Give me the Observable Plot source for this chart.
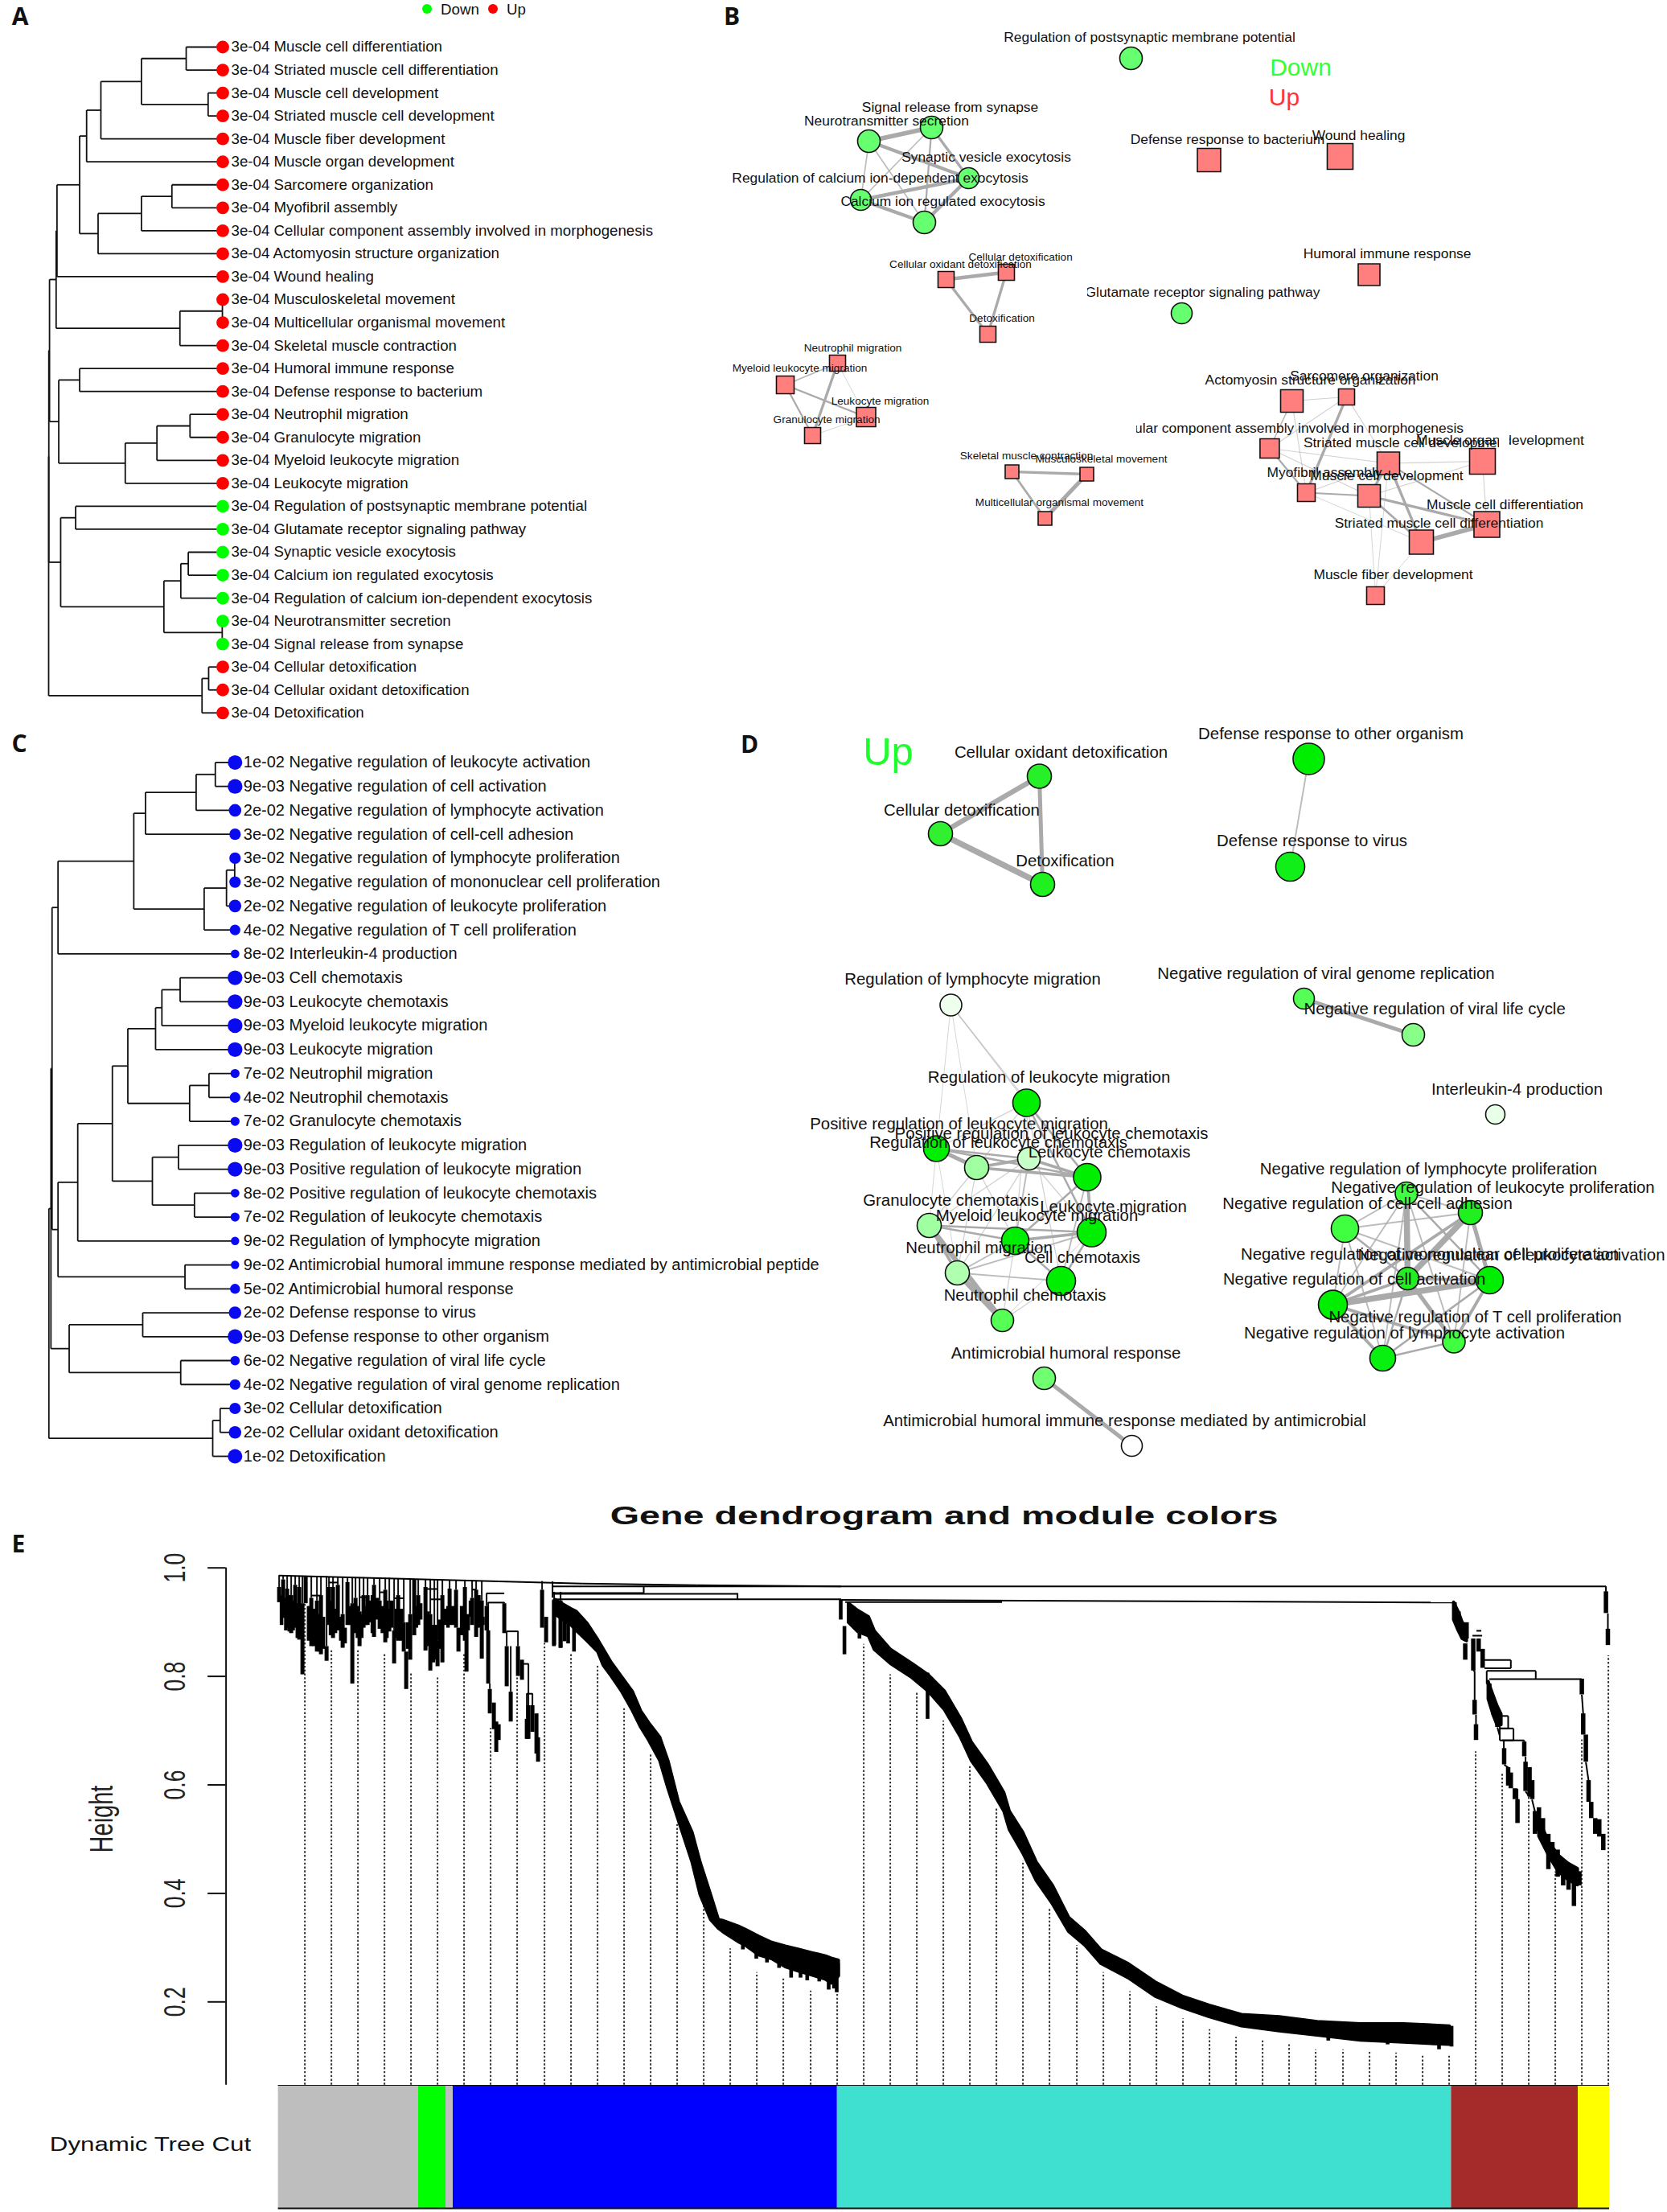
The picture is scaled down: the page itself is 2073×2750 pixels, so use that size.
<!DOCTYPE html>
<html><head><meta charset="utf-8">
<script src="https://cdn.jsdelivr.net/npm/d3@7"></script>
<script src="https://cdn.jsdelivr.net/npm/@observablehq/plot@0.6"></script>
<style>
html,body{margin:0;padding:0;background:#fff}
#page{position:relative;width:2073px;height:2750px;overflow:hidden;font-family:"Liberation Sans",sans-serif;color:#111}
#page>svg,#page>.pl{position:absolute}
.letter{position:absolute;font:700 30px "Open Sans",sans-serif;line-height:1.2;transform:translate(-50%,-50%);color:#111}
.lg{position:absolute;line-height:1.15;transform:translateY(-50%);font-size:18.7px}
.dot{position:absolute;width:12px;height:12px;border-radius:50%;transform:translate(-50%,-50%)}
.big{position:absolute;line-height:1;transform:translate(-50%,-50%)}
</style></head><body><div id="page"></div>
<script>
/* ---------- Panel A ---------- */
const aTerms=["Muscle cell differentiation","Striated muscle cell differentiation","Muscle cell development","Striated muscle cell development","Muscle fiber development","Muscle organ development","Sarcomere organization","Myofibril assembly","Cellular component assembly involved in morphogenesis","Actomyosin structure organization","Wound healing","Musculoskeletal movement","Multicellular organismal movement","Skeletal muscle contraction","Humoral immune response","Defense response to bacterium","Neutrophil migration","Granulocyte migration","Myeloid leukocyte migration","Leukocyte migration","Regulation of postsynaptic membrane potential","Glutamate receptor signaling pathway","Synaptic vesicle exocytosis","Calcium ion regulated exocytosis","Regulation of calcium ion-dependent exocytosis","Neurotransmitter secretion","Signal release from synapse","Cellular detoxification","Cellular oxidant detoxification","Detoxification"];
const aDirection=["Up","Up","Up","Up","Up","Up","Up","Up","Up","Up","Up","Up","Up","Up","Up","Up","Up","Up","Up","Up","Down","Down","Down","Down","Down","Down","Down","Up","Up","Up"];
const aMuscle=[82.2,[78.2,[70,[46.7,[21,0,1],[8.4,2,3]],4],5],[71.6,[46.7,[29.2,6,7],8],9]];
const aImmune=[94.2,[82.2,14,15],[56,[37.8,[18.8,16,17],18],19]];
const aSynapse=[93.1,[84.5,20,21],[33.8,[24.1,[19.8,22,23],24],[.3,25,26]]];
const aTree=[100,[99.9,[99.5,[95.7,[95.2,aMuscle,10],[24.6,[.2,11,12],13]],aImmune],aSynapse],[11.9,[8.1,27,28],29]];

/* ---------- Panel C ---------- */
const cTerms=["Negative regulation of leukocyte activation","Negative regulation of cell activation","Negative regulation of lymphocyte activation","Negative regulation of cell-cell adhesion","Negative regulation of lymphocyte proliferation","Negative regulation of mononuclear cell proliferation","Negative regulation of leukocyte proliferation","Negative regulation of T cell proliferation","Interleukin-4 production","Cell chemotaxis","Leukocyte chemotaxis","Myeloid leukocyte migration","Leukocyte migration","Neutrophil migration","Neutrophil chemotaxis","Granulocyte chemotaxis","Regulation of leukocyte migration","Positive regulation of leukocyte migration","Positive regulation of leukocyte chemotaxis","Regulation of leukocyte chemotaxis","Regulation of lymphocyte migration","Antimicrobial humoral immune response mediated by antimicrobial peptide","Antimicrobial humoral response","Defense response to virus","Defense response to other organism","Negative regulation of viral life cycle","Negative regulation of viral genome replication","Cellular detoxification","Cellular oxidant detoxification","Detoxification"];
const cP=["1e-02","9e-03","2e-02","3e-02","3e-02","3e-02","2e-02","4e-02","8e-02","9e-03","9e-03","9e-03","9e-03","7e-02","4e-02","7e-02","9e-03","9e-03","8e-02","7e-02","9e-02","9e-02","5e-02","2e-02","9e-03","6e-02","4e-02","3e-02","2e-02","1e-02"];
const cNeg=[54.4,[48.1,[20.9,[10.6,0,1],2],3],[16.6,[4.6,[.2,4,5],6],7]];
const cMigr=[65.9,[57.6,[42.7,[39.3,[29.5,9,10],11],12],[24.4,[14,13,14],15]],[44.4,[30.4,16,17],[21.8,18,19]]];
const cDef=[89.1,[49.6,23,24],[29.2,25,26]];
const cTree=[100,[98.9,[98.3,[95.1,cNeg,8],[95.1,[84.5,cMigr,20],[26.9,21,22]]],cDef],[12,[8,27,28],29]];

/* ---------- Panel B network ---------- */
const bLabels=["Regulation of postsynaptic membrane potential","Signal release from synapse","Neurotransmitter secretion","Synaptic vesicle exocytosis","Regulation of calcium ion-dependent exocytosis","Calcium ion regulated exocytosis","Glutamate receptor signaling pathway","Defense response to bacterium","Wound healing","Humoral immune response","Cellular oxidant detoxification","Cellular detoxification","Detoxification","Neutrophil migration","Myeloid leukocyte migration","Leukocyte migration","Granulocyte migration","Skeletal muscle contraction","Musculoskeletal movement","Multicellular organismal movement","Actomyosin structure organization","Sarcomere organization","Cellular component assembly involved in morphogenesis","Striated muscle cell development","Muscle organ development","Myofibril assembly","Muscle cell development","Muscle cell differentiation","Striated muscle cell differentiation","Muscle fiber development"];
const bX=[1406,1158,1080,1204,1070,1149,1469,1503,1666,1702,1176,1251,1228,1041,976,1076.5,1010,1258,1351,1299,1606,1674,1578.4,1726,1843,1624,1702,1848.5,1767,1710];
const bY=[72,158,175,221,248,276,389,198.5,194,341,347,338,415,451,478,518,541,586,589,644,498,493,557,575.5,573,612,616,651.5,673.5,740];
const bSize=[14,14,14,13,13,14,13,14.5,16,13.5,10,10,10,10,11,12,10,8.5,8.5,8.5,14,10,12,14,16,11,14,16,15,11];
const bLabelX=[1429,1181,1102,1226,1094,1172,1495,1526,1689,1724.6,1194,1268.6,1245.6,1060,994,1094,1027.6,1276,1369,1317,1629,1696,1600,1748,1865,1646.5,1724,1871,1789,1732];
const bLabelY=[46,133,150,195,221,249.5,363,172.5,168,315,328.5,319,395,432.6,457.6,498,521,566,570,624,472,467,532,550,547,587,591,627,650,714];
const bFont=[17.4,17.4,17.4,17.4,17.4,17.4,17.4,17.4,17.4,17.4,13.6,13.6,13.6,13.6,13.6,13.6,13.6,13.6,13.6,13.6,17.4,17.4,17.4,17.4,17.4,17.4,17.4,17.4,17.4,17.4];
const bDown=[0,1,2,3,4,5,6];
const bEdges=[[1,2,5],[1,3,3],[2,3,4],[2,4,1.5],[2,5,1.5],[1,4,1.5],[1,5,2],[3,4,4],[3,5,4],[4,5,4],[10,11,4],[10,12,3],[11,12,3],[13,16,3],[13,14,1.5],[14,15,2],[14,16,2],[13,15,.8],[15,16,.8],[17,18,3],[17,19,2.5],[18,19,4.5],[20,21,1],[20,22,1.5],[21,22,1],[21,25,3],[22,25,2],[22,23,1],[20,25,1],[23,24,1],[23,26,3],[23,28,3],[26,27,3],[26,28,2.5],[25,26,2],[28,27,5],[24,27,1],[24,26,1],[23,27,2],[29,26,.8],[29,23,.8],[29,28,.8],[25,23,1],[22,26,1],[21,23,1],[25,28,.8]];
const bMasks=[[1325,1352,350,376],[1375,1413,520,546],[1864,1877,537,559]];

/* ---------- Panel D network ---------- */
const dLabels=["Cellular oxidant detoxification","Cellular detoxification","Detoxification","Defense response to other organism","Defense response to virus","Regulation of lymphocyte migration","Negative regulation of viral genome replication","Negative regulation of viral life cycle","Interleukin-4 production","Regulation of leukocyte migration","Positive regulation of leukocyte migration","Positive regulation of leukocyte chemotaxis","Regulation of leukocyte chemotaxis","Leukocyte chemotaxis","Granulocyte chemotaxis","Myeloid leukocyte migration","Leukocyte migration","Neutrophil migration","Cell chemotaxis","Neutrophil chemotaxis","Antimicrobial humoral response","Antimicrobial humoral immune response mediated by antimicrobial","Negative regulation of lymphocyte proliferation","Negative regulation of leukocyte proliferation","Negative regulation of cell-cell adhesion","Negative regulation of mononuclear cell proliferation","Negative regulation of leukocyte activation","Negative regulation of cell activation","Negative regulation of T cell proliferation","Negative regulation of lymphocyte activation"];
const dX=[1292,1169,1296,1627,1604,1182,1621,1757,1859,1276,1164,1279,1214,1351.5,1155,1262,1357,1190,1319,1246,1298,1407,1748.5,1828,1672,1750,1852,1657,1807.5,1719];
const dY=[964.5,1036,1099,943,1077,1249,1241,1286,1385,1370.5,1427.5,1440,1451,1463,1523,1542,1531.5,1582,1592,1641,1713,1797,1483,1507,1527,1589,1591,1621.6,1667.5,1688];
const dR=[15,15,15,19.5,18,13.5,13,14,12,17,16,14,15,17,15,17,18,15,18,14,14,13,14,15,17,14,17,18,14,16];
const dFill=["#28F028","#30F030","#20F020","#00EE00","#10F018","#EEFFEE","#55FF55","#88FF88","#E8FFE8","#00EE00","#00EE00","#C8FFC8","#A0FFA0","#00EE00","#A0FFA0","#00EE00","#00EE00","#B0FFB0","#00EE00","#55FF55","#70FF70","#FFFFFF","#40FF40","#20F020","#40FF40","#20F020","#00EE00","#00EE00","#40FF40","#08F010"];
const dLabelX=[1319,1195.5,1324,1654.5,1631,1209,1648.5,1783.6,1886,1304,1192,1307,1241,1379,1182,1289,1384,1217,1345.5,1274,1325,1398,1776,1856,1700,1777.6,1879,1683.6,1834,1746];
const dLabelY=[935,1007,1070,912,1045,1217,1209.5,1254,1354,1339,1397,1409,1419.5,1432,1492,1511,1500,1551,1563,1610,1681.6,1765.5,1452.6,1476,1496,1558.5,1560,1590,1637,1656.5];
const dEdges=[[1,2,5],[1,3,4],[2,3,6],[4,5,1.5],[7,8,4],[21,22,4],[6,10,1],[6,11,.7],[6,13,.7],[6,14,1],[10,11,1],[10,12,1],[10,13,1],[10,14,2],[10,16,1],[10,17,2],[10,19,1],[11,12,2],[11,13,4],[11,14,2],[11,15,.7],[11,18,.7],[12,13,3],[12,14,3],[12,15,1],[12,16,1.5],[12,17,1],[12,18,1],[13,14,3],[13,15,1],[13,16,1],[13,18,1],[14,16,2],[14,17,3],[14,19,1.5],[15,16,2],[15,17,2],[15,18,3],[15,20,5],[16,17,3],[16,18,1.5],[16,19,2],[16,20,1],[17,19,2],[17,18,1.5],[18,19,1.5],[18,20,5],[19,20,1],[17,20,.8],[23,26,6],[23,24,1.5],[23,25,1.5],[24,25,1.5],[24,26,6],[24,27,4],[24,28,3],[24,29,1.5],[25,26,2],[25,27,1.5],[25,28,1.5],[25,30,1.5],[26,27,3],[26,28,3],[26,29,4],[26,30,2],[27,28,6],[27,29,3],[27,30,2],[28,29,3],[28,30,3],[29,30,2],[23,27,2],[23,28,1.5],[23,29,1.5],[23,30,1.5]];

/* ---------- Panel E dendrogram ---------- */
const heightTicks=[.2,.4,.6,.8,1];
const moduleStart=[0,174.4,208.4,217.4,695.2,1458.8,1616.4];
const moduleEnd=[174.4,208.4,217.4,695.2,1458.8,1616.4,1655.4];
const moduleColor=["#BEBEBE","#00FF00","#BEBEBE","#0000FF","#40E0D0","#A52A2A","#FFFF00"];
const guideX=[33,66,99,132,165,198,231,264,297,331,364,397,430,463,496,529,562,595,628,662,695,728,761,794,827,860,893,926,959,993,1026,1059,1092,1125,1158,1191,1224,1257,1290,1324,1357,1390,1423,1456,1489,1522,1555,1588,1621,1654];
const guideTop=[.942,.849,.849,.840,.806,.797,.844,.704,.797,.861,.840,.819,.742,.657,.529,.376,.298,.254,.246,.220,.214,.859,.803,.769,.718,.636,.557,.460,.374,.304,.254,.219,.191,.169,.149,.135,.128,.121,.112,.112,.108,.106,.101,.100,.661,.620,.585,.440,.683,.838];
const forestX=[1,6,11,16,21,26,30,34,41,48,53,60,63,68,74,80,86,92,96,101,106,111,119,126,133,138,144,149,156,159,164,169,174,183,189,194,198,204,213,221,224,232,234,241,246,253,259,261,263,268,271,274,281,284,289,298,303,311,309,316,321,323,328,333,343,351];
const forestStem=[.986,.986,.985,.985,.985,.985,.985,.985,.984,.984,.984,.984,.983,.983,.983,.983,.982,.982,.982,.982,.982,.981,.981,.981,.981,.981,.980,.980,.980,.845,.980,.979,.979,.978,.978,.978,.978,.977,.977,.977,.889,.976,.894,.976,.976,.975,.953,.936,.786,.751,.716,.711,.936,.883,.855,.883,.830,.823,.768,.768,.731,.687,.975,.909,.955,.955];
const forestTop=[.964,.978,.961,.949,.968,.964,.934,.983,.944,.939,.949,.855,.964,.964,.968,.914,.973,.934,.944,.919,.949,.949,.968,.939,.959,.924,.884,.949,.899,.845,.914,.978,.949,.964,.914,.894,.865,.949,.961,.959,.889,.964,.894,.944,.959,.939,.929,.884,.776,.751,.716,.711,.934,.855,.771,.855,.830,.746,.721,.746,.731,.687,.959,.909,.939,.939];
const forestBot=[.936,.907,.889,.879,.889,.867,.803,.934,.855,.845,.840,.828,.894,.870,.884,.852,.894,.786,.879,.855,.889,.894,.872,.887,.862,.882,.823,.865,.845,.776,.830,.875,.894,.847,.810,.840,.818,.825,.894,.889,.845,.865,.808,.894,.872,.832,.884,.786,.731,.702,.660,.682,.879,.781,.716,.800,.793,.684,.684,.697,.657,.642,.889,.862,.857,.852];
const denseX=[4,9.4,13.7,18.4,23.7,28.4,37.7,44.4,50.4,56,65,71,77.7,83,89.4,98.4,103.7,108.4,114.4,117,122.7,129.4,135,141,147,153,161,171.7,177,186,192.7,196,201,207.7,211,217,228,236,239,249.4,254.4,329.4,346];
const denseTop=[.949,.944,.949,.939,.934,.929,.929,.924,.914,.909,.939,.924,.909,.889,.929,.929,.914,.929,.939,.949,.944,.929,.939,.939,.924,.924,.899,.929,.934,.919,.894,.894,.904,.924,.929,.929,.929,.914,.939,.949,.909];
const denseBot=[.894,.884,.882,.884,.870,.875,.865,.855,.845,.850,.875,.879,.865,.860,.894,.870,.870,.894,.899,.879,.904,.879,.870,.889,.870,.865,.850,.889,.904,.855,.825,.830,.850,.894,.889,.894,.875,.884,.909,.889,.894];
const blueX=[344.4,364.4,371,384.4,397.7,404.4,414.4,427.7,441,451,461,474.9,485,498,515,525,538,547.7,554,574,581,598,614,631,647.7,664,681,688,697];
const blueTop=[.941,.924,.919,.897,.867,.850,.825,.798,.771,.736,.714,.687,.644,.568,.512,.457,.397,.351,.349,.338,.333,.320,.309,.302,.296,.290,.284,.280,.276];
const blueBot=[.914,.894,.884,.865,.845,.820,.800,.771,.736,.706,.682,.644,.593,.534,.457,.397,.351,.335,.328,.309,.304,.286,.279,.264,.256,.249,.241,.234,.247];
const tealX=[709.4,721,734.4,741.6,761.7,788.6,808.7,828.9,849,862.4,882.6,902.7,909.5,926.2,943,963.2,983.3,1003.5,1023.6,1057.2,1090.8,1124.4,1158,1198.2,1245.3,1292.3,1346,1399.7,1456.8];
const tealTop=[.934,.921,.909,.883,.849,.823,.802,.772,.721,.678,.636,.585,.551,.512,.457,.414,.355,.329,.295,.270,.236,.210,.193,.176,.172,.163,.159,.159,.155];
const tealBot=[.899,.882,.874,.849,.823,.797,.772,.738,.687,.644,.602,.551,.517,.474,.423,.380,.329,.304,.270,.244,.210,.189,.172,.155,.146,.138,.129,.125,.121];
const teethX=[342.7,351,356,360.4,367.7,577.7,594.4,607.7,622.7,637.7,649.4,657.7,672.7,684.4,691,694.4,696,699.4,704,722.7,807.4,1305.7,1379.5,1443.4,1459];
const teethTop=[.941,.934,.929,.924,.919,.32,.30,.29,.28,.27,.265,.26,.25,.245,.24,.25,.27,.941,.892,.912,.806,.16,.155,.15,.155];
const teethBot=[.855,.852,.864,.86,.845,.296,.279,.272,.262,.244,.244,.239,.237,.222,.224,.217,.247,.904,.84,.869,.721,.128,.121,.112,.117];
const tailX=[1462.7,1467.7,1472.7,1476,1477.7,1486,1489.4,1487.7,1492.7,1497.7,1506,1511,1516,1524.4,1529.4,1532.7,1537.7,1541,1549.4,1551,1556,1559.4,1562.7,1567.7,1572.7,1579.4,1584.4,1591,1597.8,1604.5,1611.2,1618,1621,1622.7,1626,1629.4,1632.7,1637.7,1642.7,1647.7,1651,1653.4];
const tailTop=[.936,.919,.899,.860,.899,.869,.711,.756,.869,.850,.786,.756,.731,.667,.632,.622,.593,.573,.679,.642,.632,.608,.551,.558,.538,.509,.494,.48,.46,.45,.44,.44,.795,.731,.692,.608,.568,.538,.536,.509,.956,.887];
const tailBot=[.904,.884,.869,.830,.869,.810,.682,.729,.845,.815,.756,.729,.706,.637,.598,.593,.573,.529,.652,.588,.578,.573,.509,.514,.499,.444,.459,.43,.414,.406,.376,.414,.766,.692,.642,.568,.538,.509,.504,.479,.916,.857];
const tailBandX=[1462,1467.7,1472.7,1478];
const tailBandTop=[.936,.919,.899,.885];
const tailBandBot=[.904,.884,.869,.865];
const tailBand2X=[1505,1511,1516,1521];
const tailBand2Top=[.79,.765,.745,.73];
const tailBand2Bot=[.758,.729,.71,.71];
const tailBand3X=[1568,1580,1592,1604,1616];
const tailBand3Top=[.535,.495,.47,.455,.445];
const tailBand3Bot=[.505,.47,.44,.425,.415];
/* branch segments: x1, height1, x2, height2 */
const treeBranches=[[1,.986,274,.975],[274,.975,378,.971],[378,.971,520,.968],[520,.968,700,.966],[341,.966,1651,.966],[341,.9535,454.4,.9535],[454.4,.966,454.4,.9535],[342,.952,571,.952],[571,.9535,571,.942],[343,.942,700,.942],[700,.941,1463,.936],[705,.937,900,.937],[341,.975,341,.945],[1651,.966,1651,.956],[1653.4,.916,1653.4,.887],[1487.7,.810,1487.7,.756],[1489.4,.729,1489.4,.711],[1500,.830,1532.7,.830],[1500,.815,1532.7,.815],[1532.7,.830,1532.7,.815],[1502.7,.810,1563.7,.810],[1563.7,.810,1563.7,.796],[1506,.795,1621,.795],[1519,.727,1529.4,.727],[1519,.704,1529.4,.704],[1529.4,.727,1529.4,.704],[1519,.727,1519,.682],[1519,.704,1536,.704],[1536,.704,1536,.682],[1519,.682,1536,.682],[1522,.682,1549.4,.682],[1524,.682,1524,.667],[1549.4,.682,1549.4,.679],[1551,.652,1551,.642],[1485,.875,1497,.875],[1490,.884,1496,.884],[1502.7,.810,1502.7,.786],[1621,.766,1622.7,.731],[41,.949,53,.949],[63,.973,74,.973],[101,.946,111,.946],[126,.955,133,.955],[144,.944,156,.944],[183,.961,198,.961],[189,.942,204,.942],[241,.960,246,.960],[259,.953,281,.953],[261,.936,281,.936],[284,.883,298,.883],[303,.823,311,.823],[309,.768,316,.768],[1502.7,.786,1506,.786],[1541,.593,1541,.573],[1551,.588,1556,.578],[1559,.573,1562.7,.551],[1524.4,.637,1529.4,.632],[1516,.706,1519,.69],[1626,.642,1629.4,.608],[1486,.81,1487.7,.81]];

/* ---------- helpers ---------- */
const page=document.getElementById("page");
const baseStyle={fontFamily:"'Liberation Sans',sans-serif",background:"transparent",overflow:"visible",maxWidth:"none"};
function place(el,left,top){el.style.position="absolute";el.style.left=left+"px";el.style.top=top+"px";page.appendChild(el);return el;}
function walk(n,out){
  if(typeof n==="number") return {y:n,h:0};
  const [h,...kids]=n; const w=kids.map(k=>walk(k,out));
  const a=w[0].y,b=w[w.length-1].y;
  out.push({x1:h,y1:a,x2:h,y2:b});
  w.forEach(k=>out.push({x1:k.h,y1:k.y,x2:h,y2:k.y}));
  return {y:(a+b)/2,h};
}
function html(cls,text,left,top,css=""){const d=document.createElement("div");d.className=cls;d.textContent=text;d.style.cssText=`left:${left}px;top:${top}px;${css}`;page.appendChild(d);return d;}

/* ---------- A ---------- */
const aLinks=[];walk(aTree,aLinks);
const aRows=aTerms.map((t,i)=>({row:i,text:"3e-04 "+t,fill:aDirection[i]==="Up"?"#FF0000":"#00FF00"}));
place(Plot.plot({width:1000,height:900,margin:0,style:baseStyle,
  x:{domain:[100,0],range:[60,276.5],axis:null},y:{domain:[0,29],range:[58,885.8],axis:null},
  marks:[
    Plot.link(aLinks,{x1:"x1",y1:"y1",x2:"x2",y2:"y2",stroke:"#111",strokeWidth:1.8}),
    Plot.dot(aRows,{x:()=>0,y:"row",r:7.9,fill:"fill",stroke:"none"}),
    Plot.text(aRows,{x:()=>0,y:"row",text:"text",dx:10.5,textAnchor:"start",fontSize:18.7,fill:"#111"})
  ]}),0,0);

/* ---------- C ---------- */
const cLinks=[];walk(cTree,cLinks);
const cRows=cTerms.map((t,i)=>({row:i,text:cP[i]+" "+t,p:-Math.log10(+cP[i])}));
place(Plot.plot({width:1040,height:940,margin:0,style:baseStyle,
  x:{domain:[100,0],range:[60.3,291.8],axis:null},y:{domain:[0,29],range:[47.4,910],axis:null},
  r:{type:"linear",domain:[1.05,2.05],range:[5.2,9.2],clamp:true},
  marks:[
    Plot.link(cLinks,{x1:"x1",y1:"y1",x2:"x2",y2:"y2",stroke:"#111",strokeWidth:1.8}),
    Plot.dot(cRows,{x:()=>0,y:"row",r:"p",fill:"#0A0AF0",stroke:"none"}),
    Plot.text(cRows,{x:()=>0,y:"row",text:"text",dx:10.5,textAnchor:"start",fontSize:20,fill:"#111"})
  ]}),0,900);

/* ---------- networks ---------- */
function network(labels,X,Y,size,lx,ly,font,fill,square,edges,edgeBase,edgeScale,masks,dom,rng){
  const nodes=labels.map((t,i)=>({t,x:X[i],y:Y[i],s:size[i],lx:lx[i],ly:ly[i],f:font(i),c:fill(i),sq:square(i)}));
  const links=edges.map(([a,b,w])=>({x1:X[a-edgeBase],y1:Y[a-edgeBase],x2:X[b-edgeBase],y2:Y[b-edgeBase],w:w*edgeScale,o:w<1.2?.55:w<2?.8:1}));
  return Plot.plot({width:rng[0],height:rng[1],margin:0,style:baseStyle,
    x:{domain:dom[0],range:[0,rng[0]],axis:null},y:{domain:dom[1],range:[0,rng[1]],axis:null},
    r:{type:"linear",domain:[0,40],range:[0,40]},
    marks:[
      Plot.link(links,{x1:"x1",y1:"y1",x2:"x2",y2:"y2",stroke:"#AAAAAA",strokeWidth:"w",strokeOpacity:"o"}),
      Plot.dot(nodes.filter(d=>!d.sq),{x:"x",y:"y",r:"s",fill:"c",stroke:"#111",strokeWidth:1.6}),
      Plot.dot(nodes.filter(d=>d.sq),{x:"x",y:"y",r:d=>d.s/.886,symbol:"square",fill:"c",stroke:"#111",strokeWidth:1.6}),
      Plot.text(nodes,{x:"lx",y:"ly",text:"t",fontSize:"f",fill:"#111",textAnchor:"middle"}),
      Plot.rect(masks,{x1:d=>d[0],x2:d=>d[1],y1:d=>d[2],y2:d=>d[3],fill:"white",inset:0})
    ]});
}
place(network(bLabels,bX,bY,bSize,bLabelX,bLabelY,i=>bFont[i],i=>bDown.includes(i)?"#66FF70":"#FF7F7F",i=>!bDown.includes(i),bEdges,0,1.1,bMasks,[[860,2073],[0,800]],[1213,800]),860,0);
place(network(dLabels,dX,dY,dR,dLabelX,dLabelY,()=>20.4,i=>dFill[i],()=>false,dEdges,1,1.25,[],[[900,2073],[880,1850]],[1173,970]),900,880);

/* ---------- E ---------- */
const guides=guideX.map((x,i)=>({x,t:guideTop[i]}));
const bars=forestX.map((x,i)=>({x,s:forestStem[i],t:forestTop[i],b:forestBot[i]}));
const dense=denseX.map((x,i)=>({x,t:denseTop[i],b:denseBot[i]})).filter(d=>d.t!=null&&d.b!=null);
const blue=blueX.map((x,i)=>({x,t:blueTop[i],b:blueBot[i]}));
const teal=tealX.map((x,i)=>({x,t:tealTop[i],b:tealBot[i]}));
const teeth=teethX.map((x,i)=>({x,t:teethTop[i],b:teethBot[i]}));
const tail=tailX.map((x,i)=>({x,t:tailTop[i],b:tailBot[i]}));
const band=(X,T,B)=>X.map((x,i)=>({x,t:T[i],b:B[i]}));
const bandMark=d=>Plot.areaY(d,{x:"x",y1:"t",y2:"b",fill:"#000",stroke:"#000",strokeWidth:4});
const ePlot=Plot.plot({width:2073,height:691.7,margin:0,style:baseStyle,
  x:{domain:[-345.6,1727.4],range:[0,2073],axis:null},y:{domain:[.0467,1.0722],range:[691.7,0],axis:null},
  marks:[
    Plot.ruleX(guides,{x:"x",y1:.0467,y2:"t",stroke:"#333",strokeWidth:2,strokeDasharray:"2.4,2.4"}),
    Plot.ruleX(bars,{x:"x",y1:"s",y2:"t",stroke:"#111",strokeWidth:2}),
    Plot.ruleX(bars,{x:"x",y1:"t",y2:"b",stroke:"#000",strokeWidth:5}),
    Plot.ruleX(dense,{x:"x",y1:"t",y2:"b",stroke:"#000",strokeWidth:4.5}),
    bandMark(blue),bandMark(teal),
    Plot.ruleX(teeth,{x:"x",y1:"t",y2:"b",stroke:"#000",strokeWidth:4.6}),
    Plot.ruleX(tail,{x:"x",y1:"t",y2:"b",stroke:"#000",strokeWidth:5.5}),
    bandMark(band(tailBandX,tailBandTop,tailBandBot)),
    bandMark(band(tailBand2X,tailBand2Top,tailBand2Bot)),
    bandMark(band(tailBand3X,tailBand3Top,tailBand3Bot)),
    Plot.link(treeBranches,{x1:d=>d[0],y1:d=>d[1],x2:d=>d[2],y2:d=>d[3],stroke:"#000",strokeWidth:2}),
    Plot.ruleX([-65],{y1:.0467,y2:1,stroke:"#111",strokeWidth:2}),
    Plot.ruleY(heightTicks,{x1:-87.5,x2:-65,y:d=>d,stroke:"#111",strokeWidth:2}),
    Plot.text(heightTicks,{x:-128,y:d=>d,text:d=>d.toFixed(1),rotate:-90,fontSize:26.5,fill:"#222",className:"stretch"}),
    Plot.text(["Height"],{x:-219.6,y:.537,text:d=>d,rotate:-90,fontSize:29,fill:"#222",className:"stretch"})
  ]});
place(ePlot,0,1900);
ePlot.querySelectorAll(".stretch text").forEach(t=>{t.setAttribute("transform",(t.getAttribute("transform")||"")+" scale(1,1.4)");});
const modules=moduleStart.map((s,i)=>({s,e:moduleEnd[i],c:moduleColor[i]}));
place(Plot.plot({width:2073,height:153,margin:0,style:baseStyle,
  x:{domain:[-345.6,1727.4],range:[0,2073],axis:null},y:{domain:[0,1],range:[153,0],axis:null},
  marks:[
    Plot.rect(modules,{x1:"s",x2:"e",y1:0,y2:1,fill:"c",inset:0}),
    Plot.ruleY([1],{x1:0,x2:1655.4,stroke:"#111",strokeWidth:1.2}),
    Plot.ruleY([0],{x1:0,x2:1655.4,stroke:"#111",strokeWidth:2})
  ]}),0,2591.7);

/* ---------- text furniture ---------- */
[["A",25,20],["B",910,20],["C",24,924],["D",932,925],["E",23,1919]].forEach(([t,x,y])=>html("letter",t,x,y));
html("dot","",531,11,"background:#00FF00");html("dot","",613,11,"background:#FF0000");
html("lg","Down",548,11.5);html("lg","Up",630,11.5);
html("big","Down",1617.5,84,"font-size:30px;color:#33FF33");
html("big","Up",1597,121,"font-size:30px;color:#FF3333");
html("big","Up",1104.5,934,"font-size:49px;color:#1CFF2C");
html("big","Gene dendrogram and module colors",1174,1884,"font-size:32px;font-weight:700;white-space:nowrap;transform:translate(-50%,-50%) scaleX(1.46);color:#111");
html("big","Dynamic Tree Cut",187,2666,"font-size:23px;white-space:nowrap;transform:translate(-50%,-50%) scaleX(1.36);color:#111");
</script></body></html>
